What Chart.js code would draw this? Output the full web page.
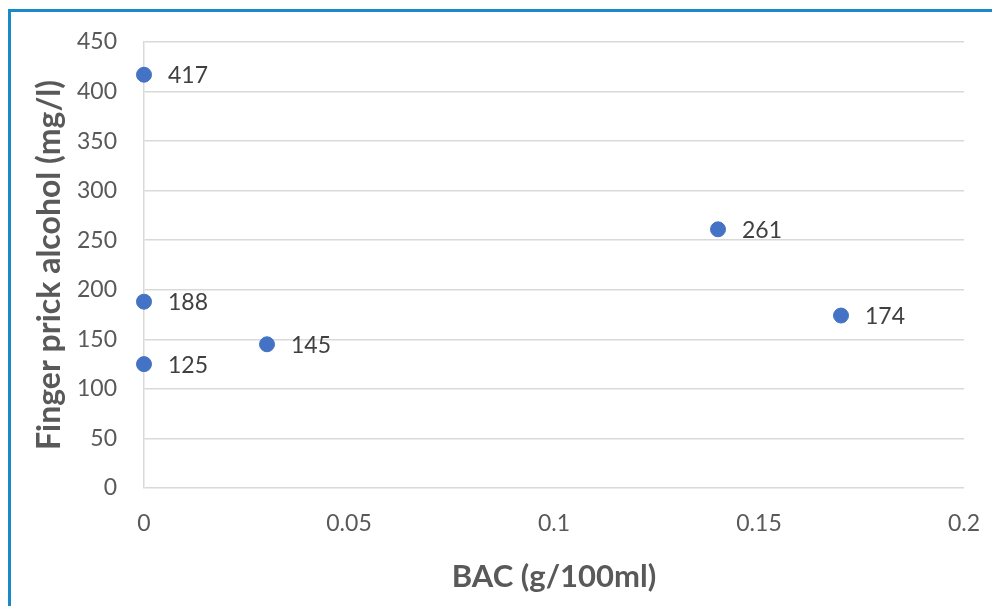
<!DOCTYPE html>
<html>
<head>
<meta charset="utf-8">
<script src="https://cdn.jsdelivr.net/npm/chart.js@4"></script>
<style>
  html, body { margin: 0; padding: 0; background: #fff; }
  #wrap { position: relative; width: 992px; height: 606px; }
  #frame { position: absolute; left: 8px; top: 9px; right: 0; bottom: 0;
           border-top: 3px solid #1a8ac6; border-left: 3px solid #1a8ac6; pointer-events: none; }
</style>
</head>
<body>
<div id="wrap">
  <canvas id="Chart"></canvas>
  <div id="frame"></div>
</div>
<script>
// BAC values and finger prick results
var bac = [0, 0, 0, 0.03, 0.14, 0.17];
var fingerPrick = [417, 188, 125, 145, 261, 174];
var xTicks = [0, 0.05, 0.1, 0.15, 0.2];
var yTicks = [0, 50, 100, 150, 200, 250, 300, 350, 400, 450];

var points = bac.map(function (b, i) { return {x: b, y: fingerPrick[i]}; });

var FONT = 'Lato, "Open Sans", sans-serif';

// labels next to each point
var valueLabels = {
    id: 'valueLabels',
    afterDatasetsDraw: function (chart) {
        var ctx = chart.ctx;
        var meta = chart.getDatasetMeta(0);
        ctx.save();
        ctx.font = '23px ' + FONT;
        ctx.fillStyle = '#404040';
        ctx.textAlign = 'left';
        ctx.textBaseline = 'middle';
        meta.data.forEach(function (pt, i) {
            ctx.fillText(String(fingerPrick[i]), pt.x + 24, pt.y + 1);
        });
        ctx.restore();
    }
};

var context = document.getElementById('Chart').getContext('2d');

var myChart = new Chart(context, {
    type: 'scatter',
    data: {
        datasets: [{
            data: points,
            backgroundColor: '#4472c4',
            borderColor: '#4472c4',
            pointRadius: 7.5,
            pointHoverRadius: 7.5,
            clip: false
        }]
    },
    options: {
        responsive: true,
        maintainAspectRatio: false,
        animation: false,
        layout: {padding: {left: 0, top: 42, right: 28, bottom: 0}},
        plugins: {
            legend: {display: false},
            tooltip: {enabled: false}
        },
        scales: {
            x: {
                min: 0,
                max: 0.2,
                afterBuildTicks: function (scale) {
                    scale.ticks = xTicks.map(function (v) { return {value: v}; });
                },
                afterFit: function (scale) {
                    scale.height = 118;
                    scale.paddingLeft = 0;
                    scale.paddingRight = 0;
                },
                grid: {display: false, drawTicks: false},
                border: {display: false},
                ticks: {
                    padding: 22,
                    color: '#595959',
                    font: {family: FONT, size: 23},
                    callback: function (v) { return String(+v.toFixed(2)); }
                },
                title: {
                    display: true,
                    text: 'BAC (g/100ml)',
                    color: '#595959',
                    font: {family: FONT, size: 31, weight: 'bold'},
                    padding: {top: 0, bottom: 10}
                }
            },
            y: {
                min: 0,
                max: 450,
                afterBuildTicks: function (scale) {
                    scale.ticks = yTicks.map(function (v) { return {value: v}; });
                },
                afterFit: function (scale) { scale.width = 144; },
                grid: {color: '#d9d9d9', lineWidth: 1.5, drawTicks: false},
                border: {display: true, color: '#d9d9d9', width: 1.5},
                ticks: {
                    padding: 27,
                    color: '#595959',
                    font: {family: FONT, size: 23}
                },
                title: {
                    display: true,
                    text: 'Finger prick alcohol (mg/l)',
                    color: '#595959',
                    font: {family: FONT, size: 32, weight: 'bold'},
                    padding: {top: 30, bottom: 0}
                }
            }
        }
    },
    plugins: [valueLabels]
});
</script>
</body>
</html>
